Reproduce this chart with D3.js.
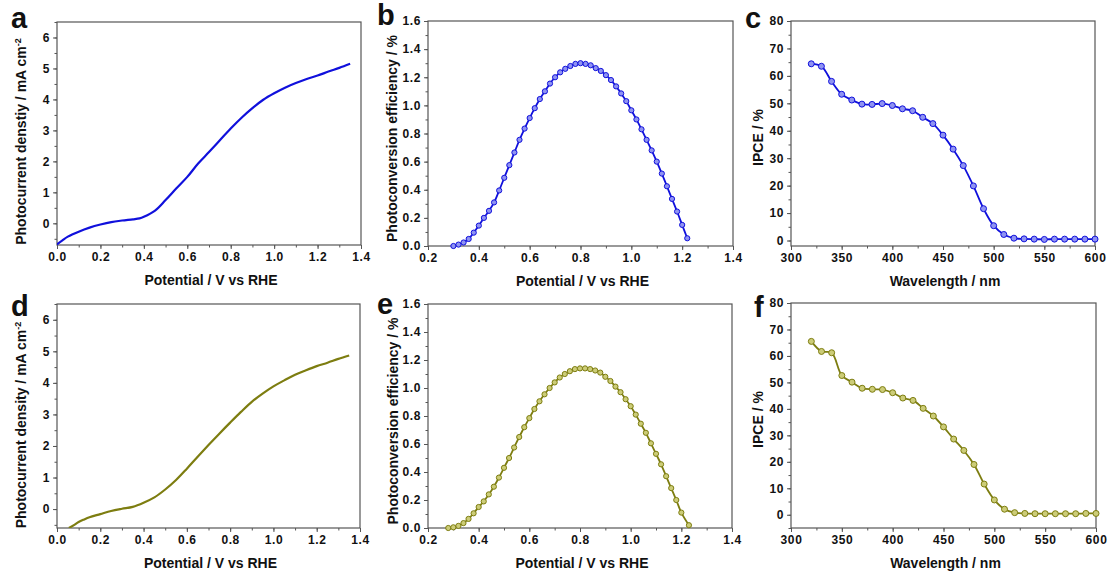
<!DOCTYPE html>
<html>
<head>
<meta charset="utf-8">
<style>
  body { margin: 0; background: #fff; }
  svg text { font-family: "Liberation Sans", Arial, sans-serif; font-weight: bold; fill: #111; }
</style>
</head>
<body>
<div id="chart"></div>
<script src="https://d3js.org/d3.v7.min.js"></script>
<script>
// ---- data ----
// a: J-V curve (blue sample)
var jvA_x = [0.0, 0.025, 0.05, 0.1, 0.15, 0.2, 0.25, 0.3, 0.35, 0.38, 0.4, 0.45, 0.5, 0.55, 0.6, 0.65, 0.7, 0.75, 0.8, 0.85, 0.9, 0.95, 1.0, 1.05, 1.1, 1.15, 1.2, 1.25, 1.3, 1.35];
var jvA_y = [-0.68, -0.55, -0.43, -0.27, -0.14, -0.04, 0.04, 0.09, 0.13, 0.16, 0.21, 0.4, 0.75, 1.13, 1.5, 1.93, 2.3, 2.68, 3.06, 3.41, 3.72, 3.99, 4.2, 4.38, 4.53, 4.66, 4.77, 4.9, 5.02, 5.15];
// d: J-V curve (olive sample)
var jvD_x = [0.055, 0.08, 0.1, 0.125, 0.15, 0.2, 0.25, 0.3, 0.35, 0.4, 0.45, 0.5, 0.55, 0.6, 0.65, 0.7, 0.75, 0.8, 0.85, 0.9, 0.95, 1.0, 1.05, 1.1, 1.15, 1.2, 1.25, 1.3, 1.35];
var jvD_y = [-0.6, -0.5, -0.41, -0.33, -0.26, -0.16, -0.06, 0.01, 0.07, 0.2, 0.37, 0.62, 0.92, 1.28, 1.66, 2.03, 2.39, 2.74, 3.08, 3.4, 3.66, 3.89, 4.08, 4.26, 4.4, 4.53, 4.64, 4.76, 4.87];

// b: photoconversion efficiency (blue)
var effB_x = [0.30, 0.32, 0.34, 0.36, 0.38, 0.40, 0.42, 0.44, 0.46, 0.48, 0.50, 0.52, 0.54, 0.56, 0.58, 0.60, 0.62, 0.64, 0.66, 0.68, 0.70, 0.72, 0.74, 0.76, 0.78, 0.80, 0.82, 0.84, 0.86, 0.88, 0.90, 0.92, 0.94, 0.96, 0.98, 1.00, 1.02, 1.04, 1.06, 1.08, 1.10, 1.12, 1.14, 1.16, 1.18, 1.20, 1.22];
var effB_y = [0.0, 0.01, 0.025, 0.05, 0.095, 0.145, 0.2, 0.25, 0.31, 0.395, 0.485, 0.575, 0.665, 0.755, 0.835, 0.91, 0.98, 1.045, 1.1, 1.155, 1.2, 1.235, 1.26, 1.28, 1.295, 1.3, 1.295, 1.285, 1.265, 1.245, 1.215, 1.18, 1.135, 1.085, 1.03, 0.965, 0.9, 0.83, 0.755, 0.68, 0.6, 0.515, 0.425, 0.335, 0.245, 0.15, 0.055];
// e: photoconversion efficiency (olive)
var effE_x = [0.28, 0.30, 0.32, 0.34, 0.36, 0.38, 0.40, 0.42, 0.44, 0.46, 0.48, 0.50, 0.52, 0.54, 0.56, 0.58, 0.60, 0.62, 0.64, 0.66, 0.68, 0.70, 0.72, 0.74, 0.76, 0.78, 0.80, 0.82, 0.84, 0.86, 0.88, 0.90, 0.92, 0.94, 0.96, 0.98, 1.00, 1.02, 1.04, 1.06, 1.08, 1.10, 1.12, 1.14, 1.16, 1.18, 1.20, 1.23];
var effE_y = [0.0, 0.005, 0.015, 0.035, 0.065, 0.105, 0.15, 0.19, 0.24, 0.295, 0.36, 0.43, 0.5, 0.575, 0.65, 0.72, 0.785, 0.85, 0.905, 0.955, 1.0, 1.04, 1.075, 1.1, 1.12, 1.135, 1.14, 1.14, 1.135, 1.125, 1.11, 1.08, 1.05, 1.01, 0.97, 0.92, 0.87, 0.81, 0.745, 0.68, 0.605, 0.53, 0.455, 0.37, 0.285, 0.2, 0.11, 0.02];

// c, f: IPCE
var wavelength = [320, 330, 340, 350, 360, 370, 380, 390, 400, 410, 420, 430, 440, 450, 460, 470, 480, 490, 500, 510, 520, 530, 540, 550, 560, 570, 580, 590, 600];
var ipceC = [64.4, 63.5, 58, 53.3, 51.2, 49.7, 49.6, 49.9, 49.2, 48, 47.3, 44.9, 42.6, 38.4, 33.3, 27.3, 19.9, 11.6, 5.4, 2.2, 0.85, 0.6, 0.5, 0.4, 0.5, 0.5, 0.5, 0.5, 0.5];
var ipceF = [65.5, 61.7, 61.2, 52.6, 50.1, 47.8, 47.4, 47.3, 46.1, 44.1, 43.2, 40.2, 37.3, 33.2, 28.6, 24.3, 19.0, 11.6, 5.6, 2.1, 0.8, 0.5, 0.4, 0.4, 0.4, 0.4, 0.4, 0.5, 0.5];

var potTicks = [0.0, 0.2, 0.4, 0.6, 0.8, 1.0, 1.2, 1.4];
var jTicks = [0, 1, 2, 3, 4, 5, 6];
var effTicks = [0.0, 0.2, 0.4, 0.6, 0.8, 1.0, 1.2, 1.4, 1.6];
var wlTicks = [300, 350, 400, 450, 500, 550, 600];
var ipceTicks = [0, 10, 20, 30, 40, 50, 60, 70, 80];

var blue = { line: "#1010dc", fill: "#8f93f2" };
var olive = { line: "#7d7d10", fill: "#cccc78" };

var W = 1110, H = 571;
var svg = d3.select("#chart").append("svg").attr("width", W).attr("height", H);

function drawPanel(p) {
    var x = d3.scaleLinear().domain(p.xDom).range([p.left, p.right]);
    var y = d3.scaleLinear().domain(p.yDom).range([p.bottom, p.top]);
    var g = svg.append("g");

    // frame
    g.append("rect")
        .attr("x", p.left).attr("y", p.top)
        .attr("width", p.right - p.left).attr("height", p.bottom - p.top)
        .attr("fill", "none").attr("stroke", "#555").attr("stroke-width", 1.2);

    // major + minor ticks, outward
    var xMinor = d3.range(p.xDom[0], p.xDom[1] + 1e-9, p.xMinorStep);
    var yMinor = d3.range(Math.ceil(p.yDom[0] / p.yMinorStep) * p.yMinorStep, p.yDom[1] + 1e-9, p.yMinorStep);
    var xAxis = d3.axisBottom(x).tickValues(p.xTicks).tickFormat(p.xFmt).tickSize(4).tickPadding(3);
    var xAxisMinor = d3.axisBottom(x).tickValues(xMinor).tickFormat("").tickSize(2.5);
    var yAxis = d3.axisLeft(y).tickValues(p.yTicks).tickFormat(p.yFmt).tickSize(4).tickPadding(3);
    var yAxisMinor = d3.axisLeft(y).tickValues(yMinor).tickFormat("").tickSize(2.5);

    [xAxisMinor, xAxis].forEach(function (ax) {
        var a = g.append("g").attr("transform", "translate(0," + p.bottom + ")").call(ax);
        a.select(".domain").remove();
        a.selectAll("line").attr("stroke", "#555");
        a.selectAll("text").style("font-size", "12px").style("letter-spacing", "0.6px");
    });
    [yAxisMinor, yAxis].forEach(function (ax) {
        var a = g.append("g").attr("transform", "translate(" + p.left + ",0)").call(ax);
        a.select(".domain").remove();
        a.selectAll("line").attr("stroke", "#555");
        a.selectAll("text").style("font-size", "12px").style("letter-spacing", "0.6px");
    });

    // clip the data to the frame
    var clipId = "clip-" + p.letter;
    svg.append("clipPath").attr("id", clipId).append("rect")
        .attr("x", p.left).attr("y", p.top)
        .attr("width", p.right - p.left).attr("height", p.bottom - p.top);

    var pts = p.xs.map(function (v, i) { return [v, p.ys[i]]; });
    var line = d3.line()
        .x(function (d) { return x(d[0]); })
        .y(function (d) { return y(d[1]); })
        .curve(d3.curveCatmullRom.alpha(0.5));

    g.append("path")
        .datum(pts)
        .attr("clip-path", "url(#" + clipId + ")")
        .attr("fill", "none")
        .attr("stroke", p.color.line)
        .attr("stroke-width", p.markers ? 1.8 : 2.2)
        .attr("d", line);

    if (p.markers) {
        g.selectAll(".pt")
            .data(pts)
            .enter()
            .append("circle")
            .attr("class", "pt")
            .attr("cx", function (d) { return x(d[0]); })
            .attr("cy", function (d) { return y(d[1]); })
            .attr("r", p.r)
            .attr("fill", p.color.fill)
            .attr("stroke", p.color.line)
            .attr("stroke-width", 1);
    }

    // axis titles
    g.append("text")
        .attr("x", (p.left + p.right) / 2 + 2)
        .attr("y", p.bottom + 40)
        .attr("text-anchor", "middle")
        .style("font-size", "14px")
        .text(p.xTitle);

    var yt = g.append("text")
        .attr("transform", "translate(" + p.yTitleX + "," + ((p.top + p.bottom) / 2 + p.yTitleShift) + ") rotate(-90)")
        .attr("text-anchor", "middle")
        .attr("dy", "0.35em")
        .style("font-size", "14px")
        .text(p.yTitle);
    if (p.ySup) {
        yt.append("tspan").attr("dy", "-0.6em").style("font-size", "9px").text(p.ySup);
    }

    // panel letter
    g.append("text")
        .attr("x", p.letterX)
        .attr("y", p.letterY)
        .style("font-size", "29px")
        .text(p.letter);
}

var fmt1 = d3.format(".1f");
var fmt0 = d3.format("d");

drawPanel({ letter: "a", letterX: 11, letterY: 28, left: 57, right: 361, top: 22, bottom: 245,
    xDom: [0, 1.4], yDom: [-0.7, 6.5], xTicks: potTicks, yTicks: jTicks, xFmt: fmt1, yFmt: fmt0,
    xMinorStep: 0.1, yMinorStep: 0.5, xs: jvA_x, ys: jvA_y, color: blue, markers: false,
    xTitle: "Potential / V vs RHE", yTitle: "Photocurrent denstiy / mA cm", ySup: "-2", yTitleX: 21, yTitleShift: 8 });

drawPanel({ letter: "b", letterX: 377, letterY: 25, left: 428, right: 733, top: 21, bottom: 246,
    xDom: [0.2, 1.4], yDom: [0, 1.6], xTicks: potTicks.slice(1), yTicks: effTicks, xFmt: fmt1, yFmt: fmt1,
    xMinorStep: 0.1, yMinorStep: 0.1, xs: effB_x, ys: effB_y, color: blue, markers: true, r: 2.6,
    xTitle: "Potential / V vs RHE", yTitle: "Photoconversion efficiency / %", yTitleX: 392, yTitleShift: 5 });

drawPanel({ letter: "c", letterX: 745, letterY: 28, left: 791, right: 1095, top: 21, bottom: 246,
    xDom: [300, 600], yDom: [-2, 80], xTicks: wlTicks, yTicks: ipceTicks, xFmt: fmt0, yFmt: fmt0,
    xMinorStep: 25, yMinorStep: 5, xs: wavelength, ys: ipceC, color: blue, markers: true, r: 3,
    xTitle: "Wavelength / nm", yTitle: "IPCE / %", yTitleX: 758, yTitleShift: 4 });

drawPanel({ letter: "d", letterX: 11, letterY: 316, left: 57, right: 360, top: 304, bottom: 528,
    xDom: [0, 1.4], yDom: [-0.6, 6.5], xTicks: potTicks, yTicks: jTicks, xFmt: fmt1, yFmt: fmt0,
    xMinorStep: 0.1, yMinorStep: 0.5, xs: jvD_x, ys: jvD_y, color: olive, markers: false,
    xTitle: "Potential / V vs RHE", yTitle: "Photocurrent density / mA cm", ySup: "-2", yTitleX: 21, yTitleShift: 9 });

drawPanel({ letter: "e", letterX: 377, letterY: 314, left: 428, right: 732, top: 304, bottom: 528,
    xDom: [0.2, 1.4], yDom: [0, 1.6], xTicks: potTicks.slice(1), yTicks: effTicks, xFmt: fmt1, yFmt: fmt1,
    xMinorStep: 0.1, yMinorStep: 0.1, xs: effE_x, ys: effE_y, color: olive, markers: true, r: 2.6,
    xTitle: "Potential / V vs RHE", yTitle: "Photoconversion efficiency / %", yTitleX: 393, yTitleShift: 5 });

drawPanel({ letter: "f", letterX: 754, letterY: 317, left: 791, right: 1096, top: 303, bottom: 528,
    xDom: [300, 600], yDom: [-5, 80], xTicks: wlTicks, yTicks: ipceTicks, xFmt: fmt0, yFmt: fmt0,
    xMinorStep: 25, yMinorStep: 5, xs: wavelength, ys: ipceF, color: olive, markers: true, r: 3,
    xTitle: "Wavelength / nm", yTitle: "IPCE / %", yTitleX: 758, yTitleShift: 4 });
</script>
</body>
</html>
